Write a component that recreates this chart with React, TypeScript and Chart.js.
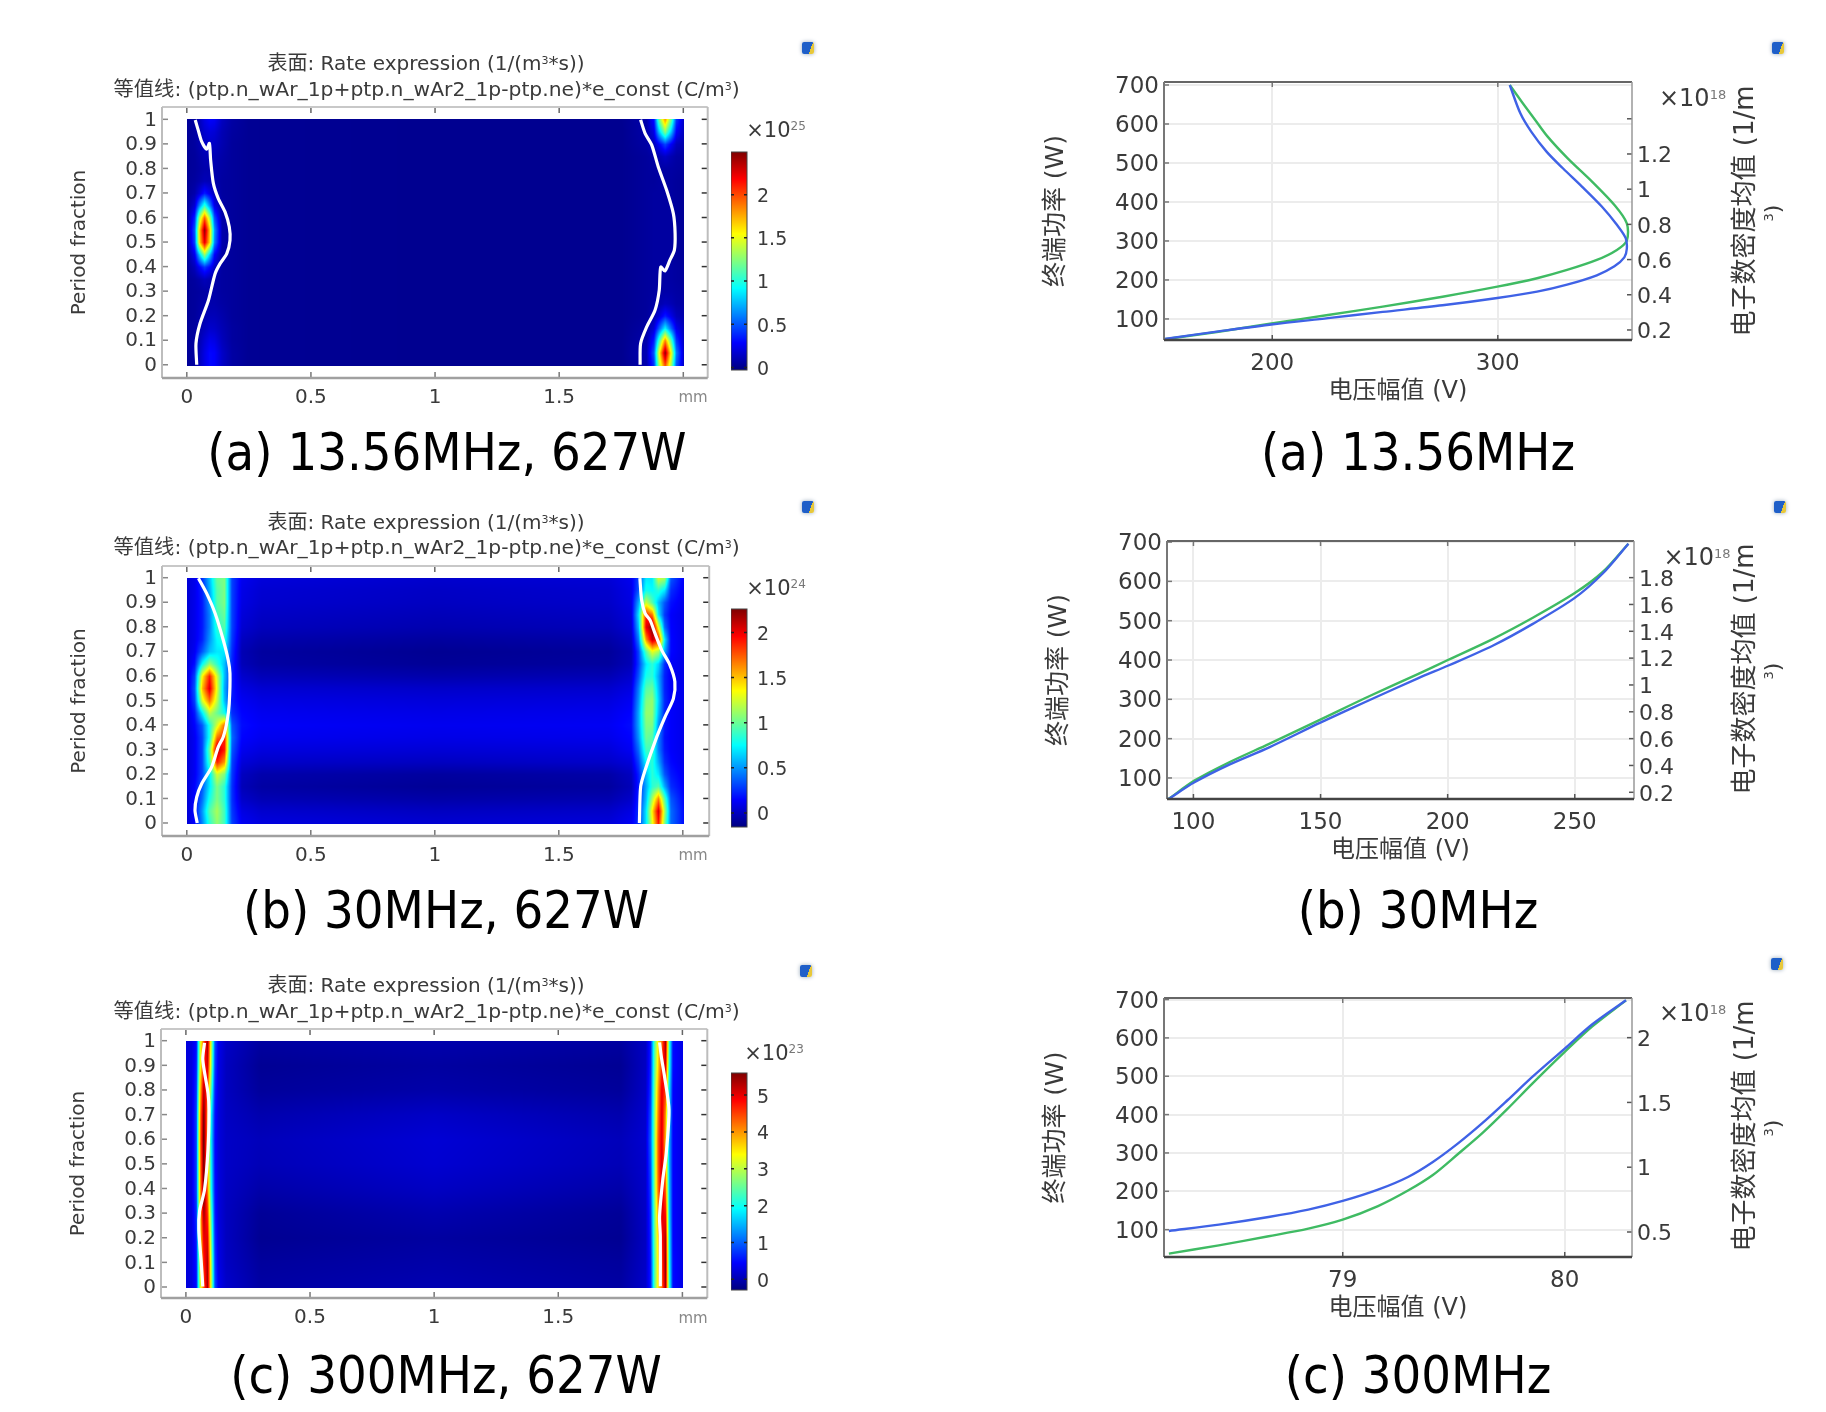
import React, { useEffect, useRef } from "react";
import { Chart, registerables } from "chart.js";
Chart.register(...registerables);

// ---------- heat maps: rate values in hundredths of the colour-bar unit, rows run from period fraction 0 upward ----------
const PERIOD_21 = [0,.05,.1,.15,.2,.25,.3,.35,.4,.45,.5,.55,.6,.65,.7,.75,.8,.85,.9,.95,1];
const PERIOD_11 = [0,.1,.2,.3,.4,.5,.6,.7,.8,.9,1];

const RATE_A_MM = [0,.03,.05,.07,.09,.11,.14,.18,.25,1,1.75,1.85,1.88,1.9,1.925,1.95,1.97,2];
const RATE_A = [
[3,5,12,22,30,28,15,6,2,1,1,8,40,130,200,130,50,15],
[3,5,12,22,30,28,15,6,2,1,1,10,50,150,245,150,60,16],
[3,5,10,18,24,22,12,5,2,1,1,8,35,105,185,110,42,14],
[3,5,8,12,16,15,10,5,2,1,1,6,18,50,90,52,24,12],
[3,4,7,9,11,11,8,4,2,1,1,4,9,18,35,22,12,8],
[3,4,6,7,8,8,6,4,2,1,1,4,6,8,12,10,7,6],
[3,4,5,6,7,7,5,4,2,1,1,4,5,6,7,7,6,5],
[3,5,8,12,9,7,5,4,2,1,1,4,5,5,6,6,5,4],
[3,12,28,42,30,14,5,4,2,1,1,4,5,5,6,6,5,4],
[3,24,80,130,80,28,6,4,2,1,1,4,5,5,5,5,4,3],
[3,45,165,225,165,60,8,4,2,1,1,4,5,5,5,5,4,3],
[3,50,170,245,170,65,8,4,2,1,1,4,5,5,5,5,4,3],
[3,38,135,195,135,48,7,4,2,1,1,4,5,5,5,5,4,3],
[3,18,65,105,65,22,6,4,2,1,1,4,5,5,5,5,4,3],
[3,8,20,35,24,12,5,4,2,1,1,4,5,5,5,5,4,3],
[3,5,8,11,10,8,5,4,2,1,1,4,4,5,5,5,4,3],
[3,4,6,8,8,8,6,4,2,1,1,4,5,6,6,6,5,4],
[3,4,7,10,10,10,7,4,2,1,1,4,6,9,14,9,6,5],
[3,5,9,13,15,14,9,4,2,1,1,6,12,26,45,26,12,8],
[3,5,10,17,20,18,10,5,2,1,1,7,22,75,125,75,28,12],
[3,5,12,22,28,26,13,6,2,1,1,8,32,115,180,115,42,15],
];

const RATE_B_MM = [0,.03,.06,.09,.12,.15,.18,.22,.3,1,1.7,1.79,1.82,1.85,1.875,1.9,1.925,1.95,2];
const RATE_B = [
[5,15,45,85,110,90,30,12,7,4,6,12,25,70,130,190,105,40,18],
[5,15,50,95,115,90,28,8,3,0,2,8,25,70,140,205,115,40,18],
[5,15,40,80,105,85,26,2,-3,-6,-4,2,22,60,115,165,95,35,16],
[5,15,35,70,105,85,26,-2,-7,-10,-8,-2,20,55,85,95,55,25,14],
[5,12,30,70,125,105,28,0,-5,-8,-6,0,22,60,85,70,35,20,12],
[5,12,30,90,190,160,30,6,2,0,2,6,30,75,85,55,25,16,10],
[5,12,30,100,215,190,35,11,7,5,6,12,40,90,90,45,20,14,10],
[5,12,30,80,170,190,40,15,11,9,10,15,50,100,95,45,18,14,10],
[5,15,35,80,125,170,35,17,13,11,12,17,55,105,105,50,20,14,10],
[5,20,70,120,100,80,25,15,11,9,10,15,55,110,110,60,22,14,10],
[5,30,125,170,120,60,20,12,8,6,7,12,50,105,110,65,24,14,10],
[5,35,150,205,130,55,20,8,4,2,3,8,45,95,100,60,22,13,10],
[5,30,135,190,125,60,20,3,-2,-5,-3,3,35,80,85,55,22,12,9],
[5,18,75,110,85,60,22,-2,-7,-10,-8,-2,28,70,85,65,25,13,9],
[5,12,35,60,70,70,25,-3,-8,-11,-9,-3,30,95,130,115,55,16,9],
[5,10,22,50,75,85,28,0,-5,-8,-6,0,45,160,210,190,70,16,9],
[5,10,20,45,85,95,30,4,-1,-4,-2,4,60,200,225,130,40,15,9],
[5,10,20,45,90,100,30,6,1,-2,0,6,70,190,170,70,28,14,9],
[5,10,20,50,95,105,30,8,3,0,2,8,55,125,95,60,35,18,10],
[5,10,22,55,95,105,30,9,4,1,3,9,35,80,75,85,70,25,12],
[5,10,25,60,100,105,30,11,6,3,5,11,30,70,70,125,115,35,14],
];

const RATE_C_MM = [0,.02,.04,.055,.07,.085,.1,.115,.13,.16,.3,1,1.75,1.85,1.87,1.885,1.9,1.915,1.93,1.945,1.96,2];
const RATE_C = [
[25,25,50,300,440,540,310,90,35,15,-8,0,-8,15,60,230,350,420,540,220,50,30],
[25,25,55,320,470,530,300,80,30,10,-12,-5,-12,12,60,230,350,440,550,200,50,30],
[25,25,60,340,500,500,270,70,28,8,-18,-10,-18,10,65,240,360,480,530,190,45,30],
[25,25,70,360,540,460,240,60,25,8,-15,-2,-15,12,70,250,390,510,480,170,45,30],
[25,25,80,380,570,420,200,55,25,10,-5,10,-5,14,80,260,420,520,430,160,45,30],
[25,25,80,390,570,410,190,50,25,12,3,18,3,16,90,260,430,520,400,150,45,30],
[25,25,80,400,580,400,180,50,25,12,5,20,5,18,100,260,430,510,380,150,45,30],
[25,25,80,390,570,410,190,55,25,10,-2,12,-2,16,90,260,410,510,400,160,45,30],
[25,25,70,360,530,450,240,65,28,8,-13,-5,-13,12,75,250,390,500,450,180,45,30],
[25,25,60,320,470,510,290,80,30,8,-17,-10,-17,10,65,235,360,460,510,210,50,30],
[25,25,50,300,440,540,310,90,35,12,-10,-3,-10,10,60,230,350,420,540,220,50,30],
];

// ---------- white contour lines: [mm, period fraction] ----------
const CONTOUR_A_LEFT = [[.04,0],[.037,.087],[.053,.167],[.087,.262],[.114,.371],[.134,.412],[.161,.453],[.174,.507],[.171,.562],[.154,.623],[.127,.677],[.107,.739],[.096,.834],[.091,.902],[.08,.878],[.06,.909],[.046,.956],[.034,.997]];
const CONTOUR_A_RIGHT = [[1.826,0],[1.828,.087],[1.852,.153],[1.886,.222],[1.903,.303],[1.909,.398],[1.926,.382],[1.946,.426],[1.964,.467],[1.967,.535],[1.96,.616],[1.933,.711],[1.899,.807],[1.873,.895],[1.846,.943],[1.828,.998]];
const CONTOUR_B_LEFT = [[.042,0],[.033,.052],[.04,.106],[.06,.16],[.1,.228],[.127,.31],[.147,.351],[.163,.419],[.171,.487],[.174,.61],[.167,.664],[.147,.746],[.114,.855],[.08,.936],[.047,.998]];
const CONTOUR_B_RIGHT = [[1.825,0],[1.83,.147],[1.848,.215],[1.895,.351],[1.928,.432],[1.962,.507],[1.968,.576],[1.948,.644],[1.915,.705],[1.888,.773],[1.868,.827],[1.848,.855],[1.834,.909],[1.827,.998]];
const CONTOUR_C_LEFT = [[.068,.002],[.062,.098],[.052,.233],[.055,.307],[.075,.395],[.089,.558],[.093,.72],[.089,.787],[.068,.923],[.075,.991]];
const CONTOUR_C_RIGHT = [[1.911,.003],[1.911,.205],[1.908,.287],[1.921,.436],[1.935,.544],[1.946,.72],[1.928,.855],[1.915,.936],[1.908,.993]];

// ---------- line charts: voltage amplitude vs. power (blue, left) and mean electron density (green, right) ----------
const A_BLUE_V = [152.3,176.2,200.4,224.7,249,275.5,299.8,317.4,330.7,343.9,351.7,356.1,357.2,356.7,352.8,346.1,337.3,328.85,321.6,314.8,310,305.3];
const A_BLUE_P = [48.8,68,86.5,102,118,135,153.8,170,188,212,235,258,280,307.3,341.5,388.4,439.6,486.5,529.2,580.4,627.3,699.8];
const A_GREEN_V = [152.3,176.2,200.4,224.7,249,275.5,299.8,317.4,330.7,343.9,352.8,357.2,357.2,351.7,342,331,322,316.5,311,305.3];
const A_GREEN_N = [.147,.19,.238,.285,.333,.389,.446,.494,.541,.598,.655,.708,.806,.91,1.04,1.175,1.3,1.395,1.49,1.592];
const B_V = [90.2,100.4,114.1,129.8,149.7,168.9,188.5,200.3,217.9,233.5,250,261,271.1];
const B_BLUE_P = [46.5,89,134,178,240,297,354,386,437,492,558,620,695.9];
const B_GREEN_N = [.15,.287,.424,.561,.74,.914,1.083,1.188,1.344,1.501,1.685,1.842,2.053];
const C_V = [78.217,78.442,78.666,78.845,79,79.159,79.294,79.406,79.518,79.63,79.742,79.854,80,80.123,80.276];
const C_BLUE_P = [96.5,113,133,152.2,174.8,204.3,237.4,276.5,324.3,378.3,437.4,498.3,572.2,635,698.3];
const C_GREEN_N = [.333,.397,.467,.526,.595,.70,.82,.94,1.10,1.265,1.45,1.645,1.89,2.085,2.288];

// ---------- ticks and texts ----------
const MM_TICKS = [0,.5,1,1.5,2];
const PERIOD_TICKS = [0,.1,.2,.3,.4,.5,.6,.7,.8,.9,1];
const POWER_TICKS = [100,200,300,400,500,600,700];
const A_V_TICKS = [200,300];
const B_V_TICKS = [100,150,200,250];
const C_V_TICKS = [79,80];
const A_N_TICKS = [.2,.4,.6,.8,1,1.2,1.4];
const A_N_LABELS = [.2,.4,.6,.8,1,1.2];
const B_N_TICKS = [.2,.4,.6,.8,1,1.2,1.4,1.6,1.8];
const C_N_TICKS = [.5,1,1.5,2];
const BAR_A_TICKS = [0,.5,1,1.5,2];
const BAR_B_TICKS = [0,.5,1,1.5,2];
const BAR_C_TICKS = [0,1,2,3,4,5];

const TXT = "#3a3a3a";
const SANS = '"DejaVu Sans","Noto Sans CJK SC",sans-serif';
const BLUE = "#3f62e6";
const GREEN = "#3fbb63";

const jet = (t: number) => {
  const c = (v: number) => Math.round(255 * Math.max(0, Math.min(1, v)));
  return [c(1.5 - Math.abs(4 * t - 3)), c(1.5 - Math.abs(4 * t - 2)), c(1.5 - Math.abs(4 * t - 1))];
};
const setTicks = (list: number[]) => (s: any) => { s.ticks = list.map((value) => ({ value })); };
const fixW = (w: number) => (s: any) => { s.width = w; };
const fixH = (h: number) => (s: any) => { s.height = h; };

function framePlugin(o: any) {
  return {
    id: "frame",
    afterDatasetsDraw(chart: any) {
      const { ctx, chartArea: a, scales } = chart;
      ctx.save();
      const seg = (x1: number, y1: number, x2: number, y2: number, col: string, lw: number) => {
        ctx.strokeStyle = col; ctx.lineWidth = lw; ctx.beginPath(); ctx.moveTo(x1, y1); ctx.lineTo(x2, y2); ctx.stroke();
      };
      (o.x || []).forEach((v: number) => {
        const p = scales.x.getPixelForValue(v);
        seg(p, a.bottom, p, a.bottom - o.len, o.tickB, 1.5);
        seg(p, a.top, p, a.top + o.len, o.tickT, 1.5);
      });
      (o.y || []).forEach((v: number) => seg(a.left, scales.y.getPixelForValue(v), a.left + o.len, scales.y.getPixelForValue(v), o.tickL, 1.5));
      const rs = o.y1 ? scales.y1 : scales.y;
      (o.y1 || o.y || []).forEach((v: number) => seg(a.right, rs.getPixelForValue(v), a.right - o.len, rs.getPixelForValue(v), o.tickR, 1.5));
      seg(a.left, a.top, a.right, a.top, o.top, o.lwT);
      seg(a.left, a.top, a.left, a.bottom, o.left, o.lwL);
      seg(a.right, a.top, a.right, a.bottom, o.right, o.lwR);
      seg(a.left, a.bottom, a.right, a.bottom, o.bottom, o.lwB);
      ctx.restore();
    },
  };
}

function shadePlugin(X: number[], Y: number[], rows: number[][], lo: number, hi: number) {
  return {
    id: "shade",
    beforeDatasetsDraw(chart: any) {
      const { ctx, scales } = chart;
      const x0 = Math.round(scales.x.getPixelForValue(X[0]));
      const x1 = Math.round(scales.x.getPixelForValue(X[X.length - 1]));
      const y0 = Math.round(scales.y.getPixelForValue(Y[Y.length - 1]));
      const y1 = Math.round(scales.y.getPixelForValue(Y[0]));
      const w = x1 - x0 + 1, h = y1 - y0 + 1;
      const img = ctx.createImageData(w, h);
      const find = (arr: number[], v: number) => { let i = 0; while (i < arr.length - 2 && v > arr[i + 1]) i++; return i; };
      for (let py = 0; py < h; py++) {
        const yv = Math.max(Y[0], Math.min(1, scales.y.getValueForPixel(y0 + py)));
        const j = find(Y, yv), fy = (yv - Y[j]) / (Y[j + 1] - Y[j]);
        for (let px = 0; px < w; px++) {
          const xv = Math.max(X[0], Math.min(X[X.length - 1], scales.x.getValueForPixel(x0 + px)));
          const i = find(X, xv), fx = (xv - X[i]) / (X[i + 1] - X[i]);
          const v = ((1 - fy) * ((1 - fx) * rows[j][i] + fx * rows[j][i + 1]) + fy * ((1 - fx) * rows[j + 1][i] + fx * rows[j + 1][i + 1])) / 100;
          const [r, g, b] = jet((v - lo) / (hi - lo));
          const k = (py * w + px) * 4;
          img.data[k] = r; img.data[k + 1] = g; img.data[k + 2] = b; img.data[k + 3] = 255;
        }
      }
      ctx.putImageData(img, x0, y0);
    },
  };
}

function barPlugin(lo: number, hi: number, ticks: number[]) {
  return {
    id: "bar",
    beforeDatasetsDraw(chart: any) {
      const { ctx, chartArea: a, scales } = chart;
      ctx.save();
      for (let p = Math.floor(a.top); p < a.bottom; p++) {
        const [r, g, b] = jet((scales.y.getValueForPixel(p + .5) - lo) / (hi - lo));
        ctx.fillStyle = `rgb(${r},${g},${b})`;
        ctx.fillRect(a.left, p, a.right - a.left, 1);
      }
      ctx.strokeStyle = "#444"; ctx.lineWidth = 1;
      ctx.strokeRect(a.left, a.top, a.right - a.left, a.bottom - a.top);
      ctx.strokeStyle = "#222"; ctx.lineWidth = 1.5;
      ticks.forEach((v) => {
        const y = scales.y.getPixelForValue(v);
        ctx.beginPath(); ctx.moveTo(a.left, y); ctx.lineTo(a.left + 3, y); ctx.moveTo(a.right, y); ctx.lineTo(a.right - 3, y); ctx.stroke();
      });
      ctx.restore();
    },
  };
}

const pts = (list: number[][]) => list.map(([x, y]) => ({ x, y }));
const zip = (xs: number[], ys: number[]) => xs.map((x, i) => ({ x, y: ys[i] }));
const white = (list: number[][]) => ({ data: pts(list), showLine: true, borderColor: "#ffffff", borderWidth: 3.2, pointRadius: 0, tension: .25, clip: false as any });

// ---------- page layout ----------
const HEAT = [
  { X: RATE_A_MM, Y: PERIOD_21, V: RATE_A, L: CONTOUR_A_LEFT, R: CONTOUR_A_RIGHT, fl: 162, fr: 707.7, ft: 107, fb: 377.5, x0: 186.8, x2: 683.3, y0: 364.3, y1: 119.3,
    lo: -.03, hi: 2.494, bt: 151.7, bb: 369.3, bar: BAR_A_TICKS, t1y: 63, t2y: 89, exp: "25", ex: 776, ey: 130, mmy: 397 },
  { X: RATE_B_MM, Y: PERIOD_21, V: RATE_B, L: CONTOUR_B_LEFT, R: CONTOUR_B_RIGHT, fl: 162, fr: 709.2, ft: 566, fb: 835.7, x0: 186.8, x2: 682.8, y0: 822.7, y1: 577.7,
    lo: -.155, hi: 2.26, bt: 609.3, bb: 827.3, bar: BAR_B_TICKS, t1y: 522, t2y: 547, exp: "24", ex: 776, ey: 588, mmy: 855 },
  { X: RATE_C_MM, Y: PERIOD_11, V: RATE_C, L: CONTOUR_C_LEFT, R: CONTOUR_C_RIGHT, fl: 161.4, fr: 707.7, ft: 1029.3, fb: 1298.3, x0: 186.3, x2: 682.8, y0: 1287.3, y1: 1041,
    lo: -.29, hi: 5.6, bt: 1073.3, bb: 1290.7, bar: BAR_C_TICKS, t1y: 985, t2y: 1011, exp: "23", ex: 774, ey: 1053, mmy: 1318 },
];
const HEAT_TITLES = ["表面: Rate expression (1/(m", "*s))"];

const LINE = [
  { blue: zip(A_BLUE_V, A_BLUE_P), green: zip(A_GREEN_V, A_GREEN_N), xt: A_V_TICKS, nt: A_N_TICKS, nl: A_N_LABELS, fl: 1164.3, fr: 1632, ft: 82, fb: 340, xmin: 152, xmax: 359.5, pmin: 46, pmax: 707.7, nmin: .143, nmax: 1.609, tc: 211, ex: 1692.6, ey: 98 },
  { blue: zip(B_V, B_BLUE_P), green: zip(B_V, B_GREEN_N), xt: B_V_TICKS, nt: B_N_TICKS, nl: B_N_TICKS, fl: 1166.8, fr: 1633.4, ft: 540.7, fb: 798.3, xmin: 89.6, xmax: 273.3, pmin: 46.5, pmax: 702.7, nmin: .15, nmax: 2.073, tc: 669, ex: 1697, ey: 557 },
  { blue: zip(C_V, C_BLUE_P), green: zip(C_V, C_GREEN_N), xt: C_V_TICKS, nt: C_N_TICKS, nl: C_N_TICKS, fl: 1164.3, fr: 1632, ft: 997.7, fb: 1256.7, xmin: 78.195, xmax: 80.303, pmin: 28.7, pmax: 704, nmin: .307, nmax: 2.306, tc: 1126, ex: 1692.6, ey: 1013 },
];

const CAPTIONS = [
  { t: "(a) 13.56MHz, 627W", x: 447, y: 452 }, { t: "(a) 13.56MHz", x: 1418, y: 452 },
  { t: "(b) 30MHz, 627W", x: 446, y: 910 }, { t: "(b) 30MHz", x: 1418, y: 910 },
  { t: "(c) 300MHz, 627W", x: 446, y: 1375 }, { t: "(c) 300MHz", x: 1418, y: 1375 },
];
const ICONS = [[808, 48], [1778, 48], [808, 507], [1780, 507], [806, 971], [1777, 964]];

const HEAT_AXW = 94, HEAT_AXH = 40, PAD = 36;
const LINE_AXL = 123, LINE_AXR = 60, LINE_AXB = 66;
const BAR_X = 731, BAR_W = 16, BAR_AX = 54;

function Canvas({ left, top, width, height, make }: any) {
  const ref = useRef<HTMLCanvasElement>(null);
  useEffect(() => {
    const chart = new Chart(ref.current as any, make());
    return () => chart.destroy();
  }, []);
  return (
    <canvas ref={ref} width={width} height={height}
      style={{ position: "absolute", left, top, width, height, filter: "blur(0.6px)" }} />
  );
}

function Text({ x, y, size, color, family, rotate, children }: any) {
  return (
    <div style={{ position: "absolute", left: x, top: y, transform: `translate(-50%,-50%)${rotate ? ` rotate(${rotate}deg)` : ""}`,
      whiteSpace: "nowrap", fontSize: size, color: color || TXT, fontFamily: family || SANS, lineHeight: 1 }}>{children}</div>
  );
}
const Sup = ({ children, size, color }: any) => <sup style={{ fontSize: size, lineHeight: 0, color, verticalAlign: "0.55em" }}>{children}</sup>;

const base = { responsive: false, animation: false as const, maintainAspectRatio: false, plugins: { legend: { display: false }, tooltip: { enabled: false }, title: { display: false } } };

function heatConfig(h: any, rightPad: number) {
  const perMm = (h.x2 - h.x0) / 2, perY = (h.y0 - h.y1);
  return {
    type: "scatter",
    data: {
      datasets: [
        { data: h.Y.flatMap((y: number, j: number) => h.X.map((x: number, i: number) => ({ x, y, v: h.V[j][i] }))), pointRadius: 0, showLine: false },
        white(h.L), white(h.R),
      ],
    },
    options: {
      ...base,
      layout: { padding: { top: PAD, right: rightPad, bottom: 0, left: 0 } },
      scales: {
        x: { type: "linear", min: (h.fl - h.x0) / perMm, max: (h.fr - h.x0) / perMm, afterBuildTicks: setTicks(MM_TICKS), afterFit: fixH(HEAT_AXH),
          grid: { display: false, drawTicks: false }, border: { display: false },
          ticks: { autoSkip: false, maxRotation: 0, padding: 8, color: TXT, font: { family: SANS, size: 20 }, callback: (v: number) => (v === 2 ? "" : String(v)) } },
        y: { type: "linear", min: (h.y0 - h.fb) / perY, max: (h.y0 - h.ft) / perY, afterBuildTicks: setTicks(PERIOD_TICKS), afterFit: fixW(HEAT_AXW),
          grid: { display: false, drawTicks: false }, border: { display: false },
          title: { display: true, text: "Period fraction", color: TXT, font: { family: SANS, size: 20 }, padding: { top: 0, bottom: 0 } },
          ticks: { autoSkip: false, padding: 5, labelOffset: 1, color: TXT, font: { family: SANS, size: 20 }, callback: (v: number) => String(v) } },
      },
    },
    plugins: [
      shadePlugin(h.X, h.Y, h.V, h.lo, h.hi),
      framePlugin({ x: MM_TICKS, y: PERIOD_TICKS, len: 6, tickB: "#777", tickT: "#666", tickL: "#888", tickR: "#333", top: "#c8c8c8", left: "#bdbdbd", right: "#bdbdbd", bottom: "#a0a0a0", lwT: 2, lwL: 2, lwR: 2, lwB: 2.5 }),
    ],
  };
}

function barConfig(h: any) {
  return {
    type: "scatter",
    data: { datasets: [{ data: [] }] },
    options: {
      ...base,
      layout: { padding: { top: PAD, bottom: PAD, left: 0, right: 0 } },
      scales: {
        x: { type: "linear", display: false },
        y: { type: "linear", position: "right", min: h.lo, max: h.hi, afterBuildTicks: setTicks(h.bar), afterFit: fixW(BAR_AX),
          grid: { display: false, drawTicks: false }, border: { display: false },
          ticks: { autoSkip: false, padding: 10, labelOffset: 2.5, color: TXT, font: { family: SANS, size: 19 }, callback: (v: number) => String(v) } },
      },
    },
    plugins: [barPlugin(h.lo, h.hi, h.bar)],
  };
}

function lineConfig(l: any) {
  return {
    type: "scatter",
    data: {
      datasets: [
        { label: "终端功率", data: l.blue, yAxisID: "y", showLine: true, borderColor: BLUE, borderWidth: 2.4, pointRadius: 0, tension: .3 },
        { label: "电子数密度均值", data: l.green, yAxisID: "y1", showLine: true, borderColor: GREEN, borderWidth: 2.4, pointRadius: 0, tension: .3 },
      ],
    },
    options: {
      ...base,
      layout: { padding: { top: PAD, right: 0, bottom: 0, left: 0 } },
      scales: {
        x: { type: "linear", min: l.xmin, max: l.xmax, afterBuildTicks: setTicks(l.xt), afterFit: fixH(LINE_AXB),
          grid: { display: true, color: "#ececec", lineWidth: 2, drawTicks: false }, border: { display: false },
          title: { display: true, text: "电压幅值 (V)", color: TXT, font: { family: SANS, size: 24 }, padding: { top: 0, bottom: 0 } },
          ticks: { autoSkip: false, maxRotation: 0, padding: 10, color: TXT, font: { family: SANS, size: 23 }, callback: (v: number) => String(v) } },
        y: { type: "linear", min: l.pmin, max: l.pmax, afterBuildTicks: setTicks(POWER_TICKS), afterFit: fixW(LINE_AXL),
          grid: { display: true, color: "#ececec", lineWidth: 2, drawTicks: false }, border: { display: false },
          title: { display: true, text: "终端功率 (W)", color: TXT, font: { family: SANS, size: 25 }, padding: { top: 0, bottom: 0 } },
          ticks: { autoSkip: false, padding: 5, labelOffset: 2, color: TXT, font: { family: SANS, size: 23 }, callback: (v: number) => String(v) } },
        y1: { type: "linear", position: "right", min: l.nmin, max: l.nmax, afterBuildTicks: setTicks(l.nt), afterFit: fixW(LINE_AXR),
          grid: { display: false, drawTicks: false }, border: { display: false },
          ticks: { autoSkip: false, padding: 5, labelOffset: 2.5, color: TXT, font: { family: SANS, size: 22 }, callback: (v: number) => (l.nl.includes(v) ? String(v) : "") } },
      },
    },
    plugins: [framePlugin({ x: l.xt, y: POWER_TICKS, y1: l.nt, len: 5, tickB: "#555", tickT: "#777", tickL: "#777", tickR: "#555", top: "#666", left: "#777", right: "#999", bottom: "#444", lwT: 2, lwL: 2, lwR: 1.5, lwB: 2.5 })],
  };
}

export default function App() {
  return (
    <div style={{ position: "absolute", left: 0, top: 0, width: 1826, height: 1412, background: "#fff", overflow: "hidden" }}>
      {HEAT.map((h, i) => {
        const cw = Math.round(h.fr - h.fl + HEAT_AXW + 4);
        return (
          <React.Fragment key={"h" + i}>
            <Canvas left={h.fl - HEAT_AXW} top={h.ft - PAD} width={cw} height={Math.round(h.fb - h.ft + PAD + HEAT_AXH)}
              make={() => heatConfig(h, cw - HEAT_AXW - (h.fr - h.fl))} />
            <Canvas left={BAR_X} top={h.bt - PAD} width={BAR_W + BAR_AX} height={Math.round(h.bb - h.bt + 2 * PAD)} make={() => barConfig(h)} />
            <div style={{ position: "absolute", left: 0, top: 0, width: 1, height: 1, filter: "blur(0.5px)" }}>
              <Text x={426} y={h.t1y} size={20}>{HEAT_TITLES[0]}<Sup size={11}>3</Sup>{HEAT_TITLES[1]}</Text>
              <Text x={426.6} y={h.t2y} size={20.3}>等值线: (ptp.n_wAr_1p+ptp.n_wAr2_1p-ptp.ne)*e_const (C/m<Sup size={11}>3</Sup>)</Text>
              <Text x={h.ex} y={h.ey} size={21}>×10<Sup size={12} color="#777">{h.exp}</Sup></Text>
              <Text x={693} y={h.mmy} size={15} color="#888">mm</Text>
            </div>
          </React.Fragment>
        );
      })}
      {LINE.map((l, i) => (
        <React.Fragment key={"l" + i}>
          <Canvas left={l.fl - LINE_AXL} top={l.ft - PAD} width={Math.round(l.fr - l.fl + LINE_AXL + LINE_AXR)} height={Math.round(l.fb - l.ft + PAD + LINE_AXB)} make={() => lineConfig(l)} />
          <div style={{ position: "absolute", left: 0, top: 0, width: 1, height: 1, filter: "blur(0.5px)" }}>
            <Text x={l.ex} y={l.ey} size={24}>×10<Sup size={13} color="#777">18</Sup></Text>
            <Text x={1744} y={l.tc} size={26} rotate={-90}>电子数密度均值 (1/m</Text>
            <Text x={1773} y={l.tc + 2} size={22} rotate={-90}><Sup size={13}>3</Sup>)</Text>
          </div>
        </React.Fragment>
      ))}
      {CAPTIONS.map((c) => (
        <Text key={c.t} x={c.x} y={c.y} size={52} color="#000" family='"DejaVu Sans Condensed","DejaVu Sans",sans-serif'>{c.t}</Text>
      ))}
      {ICONS.map(([x, y], i) => (
        <div key={"i" + i} style={{ position: "absolute", left: x - 6, top: y - 6, width: 12, height: 12, borderRadius: 2, background: "linear-gradient(110deg,#1f5fc8 0 68%,#e8c83a 68% 100%)", boxShadow: "0 0 4px #9ab", filter: "blur(0.7px)" }} />
      ))}
    </div>
  );
}
